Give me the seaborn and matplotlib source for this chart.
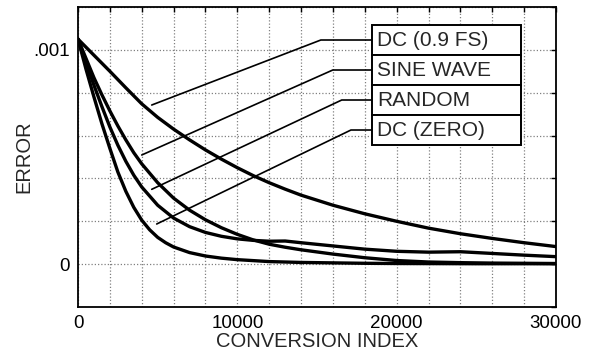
import numpy as np
import pandas as pd
import matplotlib
matplotlib.use("Agg")
import matplotlib.pyplot as plt
import seaborn as sns
from matplotlib.ticker import FixedLocator, FuncFormatter

# ---- data ----
series_names = ["DC (0.9 FS)", "SINE WAVE", "RANDOM", "DC (ZERO)"]

x_dc09 = [0, 1000, 2000, 3000, 4000, 5000, 6000, 7000, 8000, 9000, 10000,
          11000, 12000, 13000, 14000, 16000, 18000, 20000, 22000, 24000,
          26000, 28000, 30000]
y_dc09 = [0.00105, 0.000975, 0.0009, 0.000823, 0.000748, 0.000685, 0.00063,
          0.00058, 0.000533, 0.00049, 0.00045, 0.000413, 0.00038, 0.00035,
          0.000322, 0.000275, 0.000235, 0.0002, 0.000168, 0.000142, 0.00012,
          0.0001, 0.000082]

x_sine = [0, 500, 1000, 1500, 2000, 2500, 3000, 3500, 4000, 5000, 6000, 7000,
          8000, 9000, 10000, 11000, 12000, 13000, 14000, 16000, 18000, 20000,
          22000, 24000, 26000, 28000, 30000]
y_sine = [0.00105, 0.00096, 0.00087, 0.00079, 0.000715, 0.000645, 0.00058,
          0.00052, 0.000468, 0.00038, 0.000308, 0.000252, 0.000207, 0.00017,
          0.000139, 0.000113, 0.000093, 0.000079, 0.000067, 0.000047,
          0.00003, 0.000017, 0.00001, 0.000007, 0.000005, 0.000004, 0.000003]

x_rand = [0, 500, 1000, 1500, 2000, 2500, 3000, 3500, 4000, 5000, 6000, 7000,
          8000, 9000, 10000, 11000, 12000, 13000, 14000, 16000, 18000, 20000,
          22000, 23000, 24000, 25000, 26000, 28000, 30000]
y_rand = [0.00105, 0.00094, 0.000835, 0.000735, 0.00064, 0.000555, 0.00048,
          0.000415, 0.00036, 0.000275, 0.000215, 0.000175, 0.000148, 0.00013,
          0.000118, 0.000111, 0.000107, 0.000108, 0.0001, 0.000085, 0.00007,
          0.00006, 0.000056, 0.000057, 0.000058, 0.000054, 0.00005, 0.000042,
          0.000035]

x_zero = [0, 500, 1000, 1500, 2000, 2500, 3000, 3500, 4000, 4500, 5000, 5500,
          6000, 7000, 8000, 9000, 10000, 12000, 14000, 16000, 18000, 20000,
          25000, 30000]
y_zero = [0.00105, 0.00091, 0.00078, 0.000655, 0.00054, 0.00043, 0.00034,
          0.000265, 0.000205, 0.00016, 0.000125, 0.0001, 0.00008, 0.000054,
          0.000038, 0.000028, 0.000021, 0.000012, 0.000008, 0.000006,
          0.000004, 0.000003, 0.000002, 0.000002]

xtick_values = [0, 10000, 20000, 30000]
xtick_labels = ["0", "10000", "20000", "30000"]
ytick_values = [0.0, 0.001]
ytick_labels = ["0", ".001"]

frames = []
for name, xs, ys in zip(series_names,
                        [x_dc09, x_sine, x_rand, x_zero],
                        [y_dc09, y_sine, y_rand, y_zero]):
    frames.append(pd.DataFrame({"x": xs, "y": ys, "series": name}))
df = pd.concat(frames, ignore_index=True)

# ---- style ----
sns.set_style("white")
plt.rcParams["font.family"] = ["Liberation Sans", "DejaVu Sans"]

fig = plt.figure(figsize=(5.92, 3.52), dpi=100)
ax = fig.add_axes([0.1318, 0.1278, 0.8074, 0.8523])

sns.lineplot(data=df, x="x", y="y", hue="series", hue_order=series_names,
             palette=["black"] * 4, linewidth=2.4, legend=False, ax=ax,
             sort=False)
for ln in ax.get_lines():
    ln.set_solid_joinstyle("round")

ax.set_xlim(0, 30000)
ax.set_ylim(-0.0002, 0.0012)

xgrid = list(range(0, 30001, 2000))
ygrid = [round(-0.0002 + 0.0002 * i, 6) for i in range(8)]
ax.xaxis.set_major_locator(FixedLocator(xgrid))
ax.yaxis.set_major_locator(FixedLocator(ygrid))

xlab = dict(zip(xtick_values, xtick_labels))
ylab = {round(v, 6): l for v, l in zip(ytick_values, ytick_labels)}
ax.xaxis.set_major_formatter(FuncFormatter(lambda v, p: xlab.get(int(round(v)), "")))
ax.yaxis.set_major_formatter(FuncFormatter(lambda v, p: ylab.get(round(v, 6), "")))

ax.grid(True, linestyle=(0, (1, 1.6)), color="#808080", linewidth=0.9)
ax.tick_params(direction="in", length=3.5, width=1, colors="black",
               top=True, right=True, labelsize=13.5, pad=6)
for s in ax.spines.values():
    s.set_color("black")
    s.set_linewidth(1.3)

ax.set_xlabel("CONVERSION INDEX", fontsize=14.5, labelpad=0)
ax.set_ylabel("ERROR", fontsize=14.5, labelpad=0)

# ---- legend box with leader lines ----
box_left, box_right, box_top = 0.6144, 0.9268, 0.94
row_h = 0.1
elbows = [0.508, 0.533, 0.5517, 0.571]
targets = [(0.1542, 0.6733), (0.1333, 0.5067), (0.1542, 0.3923), (0.1646, 0.2767)]
for i, name in enumerate(series_names):
    top = box_top - i * row_h
    rect = plt.Rectangle((box_left, top - row_h), box_right - box_left, row_h,
                         transform=ax.transAxes, facecolor="white",
                         edgecolor="black", linewidth=1.4, zorder=5)
    ax.add_patch(rect)
    yc = top - row_h / 2
    ax.text(box_left + 0.012, yc, name, transform=ax.transAxes,
            fontsize=15, va="center", ha="left", zorder=6)
    tx, ty = targets[i]
    ax.plot([box_left, elbows[i], tx], [yc, yc, ty], transform=ax.transAxes,
            color="black", linewidth=1.2, zorder=4, solid_joinstyle="miter")

fig.savefig("out.png", dpi=100)
